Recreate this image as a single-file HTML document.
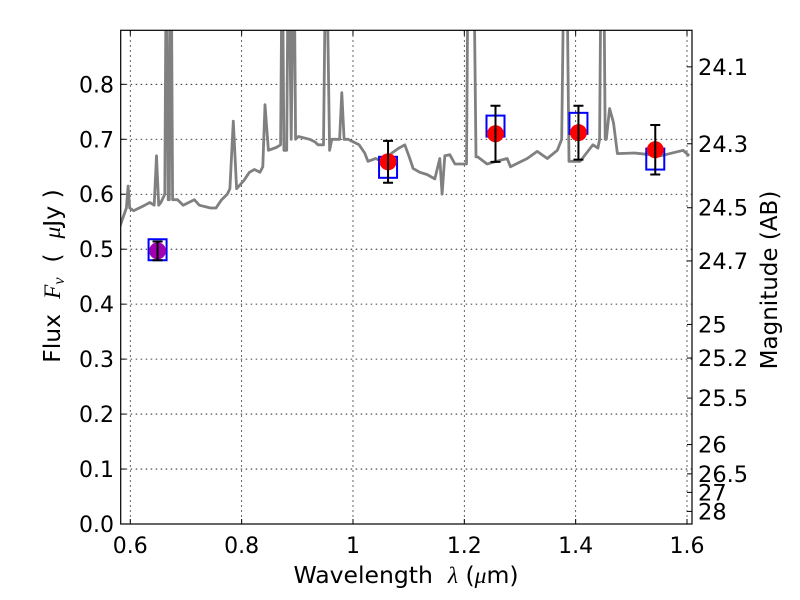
<!DOCTYPE html>
<html><head><meta charset="utf-8"><style>
body{margin:0;background:#fff}
svg{display:block}
text{font-family:"DejaVu Sans","Liberation Sans",sans-serif;fill:#000;white-space:pre}
</style></head><body>
<svg id="chart" width="800" height="600" xmlns="http://www.w3.org/2000/svg">
<rect x="0" y="0" width="800" height="600" fill="#fff"/>
<defs><clipPath id="clip"><rect x="120.7" y="30.3" width="571.3" height="493.7"/></clipPath></defs>
<g id="grid"></g>
<g id="spec" clip-path="url(#clip)"></g>
<g id="marks"></g>
<rect x="120.7" y="30.3" width="571.3" height="493.7" fill="none" stroke="#000" stroke-width="1.2"/>
<g id="axes"></g>
<text x="406" y="583" font-size="23.5" text-anchor="middle">Wavelength  <tspan font-style="italic" font-family="Liberation Serif">λ</tspan> (<tspan font-style="italic" font-family="Liberation Serif">μ</tspan>m)</text>
<text transform="translate(60,276) rotate(-90)" font-size="23.5" text-anchor="middle">Flux  <tspan font-style="italic" font-family="Liberation Serif">F<tspan font-size="16" dy="4">ν</tspan></tspan><tspan dy="-4">  (  </tspan><tspan font-style="italic" font-family="Liberation Serif">μ</tspan>Jy )</text>
<text transform="translate(777,280) rotate(-90)" font-size="23" text-anchor="middle">Magnitude (AB)</text>
</svg>
<script>
const specWave=[0.580,0.581,0.586,0.593,0.596,0.599,0.606,0.616,0.626,0.635,0.643,0.647,0.651,0.655,0.662,0.664,0.666,0.668,0.670,0.672,0.674,0.676,0.685,0.695,0.705,0.715,0.724,0.744,0.754,0.764,0.774,0.779,0.785,0.791,0.804,0.814,0.823,0.833,0.838,0.842,0.848,0.862,0.870,0.872,0.874,0.876,0.881,0.883,0.886,0.889,0.892,0.895,0.897,0.902,0.922,0.932,0.937,0.947,0.950,0.954,0.958,0.962,0.976,0.980,0.984,0.991,1.001,1.011,1.021,1.027,1.041,1.051,1.060,1.070,1.081,1.093,1.102,1.108,1.120,1.133,1.147,1.156,1.160,1.165,1.174,1.183,1.192,1.204,1.206,1.212,1.218,1.221,1.224,1.241,1.258,1.277,1.283,1.313,1.331,1.349,1.367,1.375,1.378,1.385,1.388,1.391,1.408,1.431,1.440,1.443,1.445,1.451,1.453,1.455,1.461,1.468,1.475,1.505,1.553,1.593,1.604];
const specFlux=[0.50,0.54,0.555,0.575,0.615,0.575,0.57,0.575,0.58,0.585,0.58,0.67,0.58,0.585,0.60,0.95,0.95,0.59,0.59,0.95,0.95,0.59,0.59,0.58,0.585,0.59,0.58,0.575,0.575,0.59,0.60,0.61,0.733,0.61,0.625,0.64,0.645,0.64,0.65,0.763,0.68,0.685,0.69,0.95,0.95,0.68,0.68,0.95,0.95,0.70,0.95,0.95,0.70,0.705,0.70,0.695,0.69,0.69,0.95,0.95,0.68,0.70,0.70,0.785,0.70,0.70,0.695,0.69,0.675,0.66,0.665,0.66,0.665,0.675,0.683,0.69,0.665,0.647,0.64,0.636,0.628,0.665,0.60,0.67,0.672,0.655,0.655,0.655,0.95,0.95,0.95,0.668,0.668,0.655,0.66,0.665,0.65,0.665,0.678,0.665,0.68,0.70,0.95,0.95,0.66,0.66,0.66,0.69,0.684,0.70,0.95,0.95,0.70,0.70,0.756,0.73,0.674,0.675,0.67,0.68,0.67];
const photWave=[0.649,1.063,1.256,1.405,1.543];
const photFlux=[0.497,0.659,0.710,0.712,0.681];
const photErr=[0.017,0.038,0.051,0.049,0.045];
const modelFlux=[0.499,0.649,0.724,0.729,0.664];
const photColor=['#a000b0','red','red','red','red'];
const xTicks=[0.6,0.8,1.0,1.2,1.4,1.6];
const xTickLabels=['0.6','0.8','1','1.2','1.4','1.6'];
const yTicks=[0,0.1,0.2,0.3,0.4,0.5,0.6,0.7,0.8];
const yTickLabels=['0.0','0.1','0.2','0.3','0.4','0.5','0.6','0.7','0.8'];
const magTicks=[24.1,24.3,24.5,24.7,25,25.2,25.5,26,26.5,27,28];
const magLabels=['24.1','24.3','24.5','24.7','25','25.2','25.5','26','26.5','27','28'];

const NS='http://www.w3.org/2000/svg';
const X0=120.7,X1=692,Y0=524,Y1=30.3;
function xs(l){return 130.3+(l-0.6)*556.7;}
function ys(f){return 524-f*549.6;}
function magToFlux(m){return Math.pow(10,(23.9-m)/2.5);}
function mk(tag,attrs,parent){const e=document.createElementNS(NS,tag);for(const k in attrs)e.setAttribute(k,attrs[k]);parent.appendChild(e);return e;}
const grid=document.getElementById('grid'),axes=document.getElementById('axes'),spec=document.getElementById('spec'),marks=document.getElementById('marks');

xTicks.forEach((t,i)=>{const x=xs(t);
 const g=mk('line',{x1:x,x2:x,y1:Y1,y2:Y0,stroke:'#000','stroke-width':0.8,'stroke-dasharray':'1.5,3.5'},grid);
 
 
 mk('line',{x1:x,x2:x,y1:Y0,y2:Y0-5,stroke:'#000'},axes);
 mk('line',{x1:x,x2:x,y1:Y1,y2:Y1+5,stroke:'#000'},axes);
 const tx=mk('text',{x:x,y:553,'font-size':22,'text-anchor':'middle'},axes);tx.textContent=xTickLabels[i];
 
 
});
yTicks.forEach((t,i)=>{const y=ys(t);
 const g=mk('line',{x1:X0,x2:X1,y1:y,y2:y,stroke:'#000','stroke-width':0.8,'stroke-dasharray':'1.5,3.5'},grid);
 
 
 mk('line',{x1:X0,x2:X0+5,y1:y,y2:y,stroke:'#000'},axes);
 const tx=mk('text',{x:114,y:y+8,'font-size':22,'text-anchor':'end'},axes);tx.textContent=yTickLabels[i];
 
 
});
magTicks.forEach((m,i)=>{const y=ys(magToFlux(m));
 mk('line',{x1:X1,x2:X1-5,y1:y,y2:y,stroke:'#000'},axes);
 const tx=mk('text',{x:698,y:y+8,'font-size':22.5},axes);tx.textContent=magLabels[i];
 
 
});

let d='';specWave.forEach((l,i)=>{d+=(i?'L':'M')+xs(l).toFixed(1)+','+ys(specFlux[i]).toFixed(1);});
const sp=mk('path',{d:d,fill:'none',stroke:'#808080','stroke-width':2.8,'stroke-linejoin':'round'},spec);



photWave.forEach((l,i)=>{const x=xs(l);
 const b=mk('rect',{x:x-9,y:ys(modelFlux[i])-10.5,width:18,height:21,fill:'none',stroke:'#0000ff','stroke-width':2},marks);
 
 
 const c=mk('circle',{cx:x,cy:ys(photFlux[i]),r:8.5,fill:photColor[i]},marks);
 
 
 const yt=ys(photFlux[i]+photErr[i]),yb=ys(photFlux[i]-photErr[i]);
 const e=mk('path',{d:`M${x},${yt}L${x},${yb}M${x-5},${yt}L${x+5},${yt}M${x-5},${yb}L${x+5},${yb}`,stroke:'#000','stroke-width':2,fill:'none'},marks);
 
 
});
</script>
</body></html>
